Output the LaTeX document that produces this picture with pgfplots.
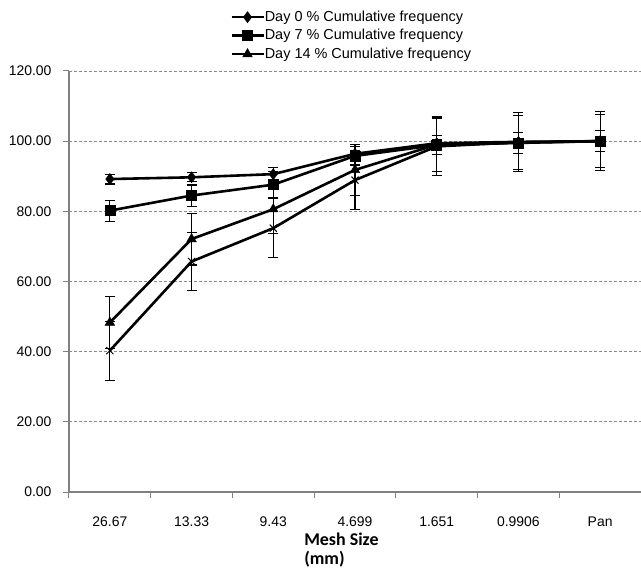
\documentclass[border=0pt]{standalone}
\usepackage{fontspec}
\setmainfont{Liberation Sans}
\newfontfamily\carlito{Carlito}
\usepackage{pgfplots}
\pgfplotsset{compat=1.18}

\pgfplotstableread{
x y e
0 89.2 1.4
1 89.7 1.3
2 90.6 1.9
3 96.4 2.0
4 99.4 1.0
5 99.8 0.6
6 100.0 0.4
}\dayzero
\pgfplotstableread{
x y e
0 80.2 3.0
1 84.5 3.0
2 87.6 3.8
3 95.8 2.6
4 98.9 2.8
5 99.5 2.9
6 100.0 3.0
}\dayseven
\pgfplotstableread{
x y e
0 48.3 7.4
1 72.1 7.4
2 80.6 6.8
3 91.8 7.3
4 99.0 7.6
5 99.6 7.6
6 100.0 7.6
}\dayfourteen
\pgfplotstableread{
x y e
0 40.3 8.4
1 65.7 8.2
2 75.2 8.4
3 88.9 8.5
4 98.5 8.4
5 99.7 8.4
6 100.0 8.4
}\dayx

\begin{document}
\begin{tikzpicture}
\begin{axis}[
  scale only axis, width=572bp, height=421bp,
  xmin=-0.5, xmax=6.5, ymin=0, ymax=120,
  xtick={0,...,6},
  xticklabels={26.67,13.33,9.43,4.699,1.651,0.9906,Pan},
  minor xtick={-0.5,0.5,...,6.5},
  major x tick style={draw=none},
  ytick={0,20,...,120},
  yticklabel style={xshift=-8bp, /pgf/number format/.cd, fixed, fixed zerofill, precision=2},
  /pgf/number format/assume math mode=true,
  axis x line*=bottom, axis y line*=left,
  axis line style={draw=black!50, line width=1.3bp, -},
  tick align=outside,
  major tick length=6bp, minor tick length=6bp,
  every tick/.style={black!50, line width=1bp},
  ymajorgrids,
  grid style={dash pattern=on 3bp off 2bp, black!45, line width=0.8bp},
  tick label style={font=\fontsize{14}{17}\selectfont},
  xticklabel style={anchor=base, yshift=-28bp},
  xlabel={Mesh Size\\(mm)},
  xlabel style={font=\carlito\bfseries\fontsize{18}{19}\selectfont, align=left,
    at={(axis description cs:0.411,0)}, anchor=north west, inner sep=0pt, yshift=-41bp},
  legend style={at={(0.2815,1.145)}, anchor=north west, draw=none, fill=none,
    inner sep=0pt, font=\fontsize{14.5}{17}\selectfont, row sep=4.5bp,
    nodes={inner sep=0pt, text height=11bp, text depth=3bp},
    legend cell align=left},
  legend image code/.code={
    \draw[mark repeat=2, mark phase=2] plot coordinates {(0bp,0bp) (16bp,0bp) (32bp,0bp)};},
  every axis plot/.append style={black, line width=2.6bp},
  error bars/error bar style={line width=1.1bp, black, solid},
  error bars/error mark options={rotate=90, mark size=5bp, line width=1.1bp, black, solid},
]
\addplot+[black, mark=diamond*, mark size=5.5bp, mark options={fill=black, line width=0.5bp},
  error bars/.cd, y dir=both, y explicit]
  table[x=x, y=y, y error=e] {\dayzero};
\addlegendentry{Day 0 \% Cumulative frequency}
\addplot+[black, mark=square*, mark size=5bp, mark options={fill=black, line width=0.5bp},
  error bars/.cd, y dir=both, y explicit]
  table[x=x, y=y, y error=e] {\dayseven};
\addlegendentry{Day 7 \% Cumulative frequency}
\addplot+[black, mark=triangle*, mark size=5.5bp, mark options={fill=black, line width=0.5bp},
  error bars/.cd, y dir=both, y explicit]
  table[x=x, y=y, y error=e] {\dayfourteen};
\addlegendentry{Day 14 \% Cumulative frequency}
\addplot+[black, forget plot, mark=x, mark size=5bp, mark options={line width=1bp},
  error bars/.cd, y dir=both, y explicit]
  table[x=x, y=y, y error=e] {\dayx};
\end{axis}
\pgfresetboundingbox
\path (current axis.south west) ++(-69bp,-76bp) rectangle ++(641bp,568bp);
\end{tikzpicture}
\end{document}
